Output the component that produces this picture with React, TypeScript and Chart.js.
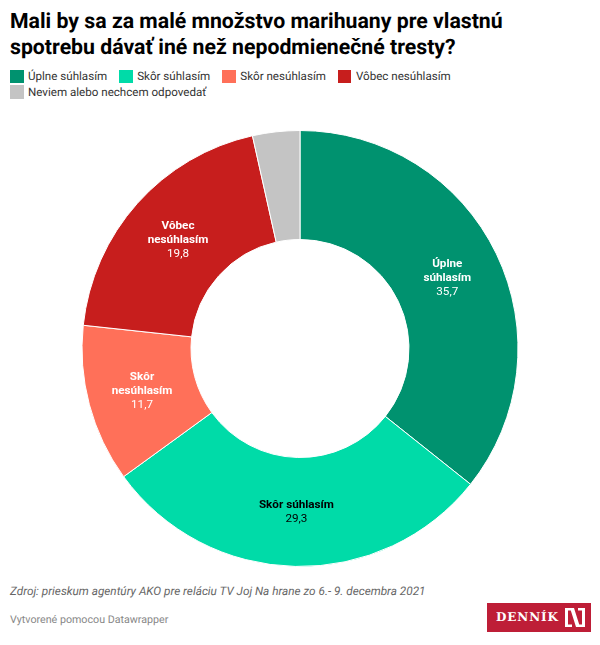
import { Chart, registerables } from "chart.js"
import { useEffect, useRef } from "react"

Chart.register(...registerables)

const categories = ["Úplne súhlasím", "Skôr súhlasím", "Skôr nesúhlasím", "Vôbec nesúhlasím", "Neviem alebo nechcem odpovedať"]
const values = [35.7, 29.3, 11.7, 19.8, 3.5]
const colors = ["#00926f", "#00dba8", "#ff7059", "#c71e1d", "#c4c4c4"]
const labelColors = ["#fff", "#000", "#fff", "#fff", ""]
const sliceLabels = [["Úplne", "súhlasím"], ["Skôr súhlasím"], ["Skôr", "nesúhlasím"], ["Vôbec", "nesúhlasím"], []]

const font = "Roboto, sans-serif"

const sliceLabelPlugin = {
  id: "sliceLabels",
  afterDatasetsDraw(chart: any) {
    const ctx = chart.ctx
    chart.getDatasetMeta(0).data.forEach((arc: any, i: number) => {
      const lines = sliceLabels[i]
      if (!lines.length) return
      const { x, y } = arc.tooltipPosition()
      const total = lines.length + 1
      const top = y - ((total - 1) * 14) / 2 + 0.5
      ctx.save()
      ctx.textAlign = "center"
      ctx.textBaseline = "middle"
      ctx.fillStyle = labelColors[i]
      ctx.font = `700 11.7px ${font}`
      lines.forEach((line, j) => ctx.fillText(line, x, top + j * 14))
      ctx.font = `400 11.7px ${font}`
      ctx.fillText(values[i].toFixed(1).replace(".", ","), x, top + lines.length * 14)
      ctx.restore()
    })
  },
}

const App = () => {
  const chartRef = useRef<HTMLCanvasElement>(null)

  useEffect(() => {
    if (chartRef.current) {
      const myChart = new Chart(chartRef.current, {
        type: "doughnut",
        data: {
          labels: categories,
          datasets: [{ data: values, backgroundColor: colors, borderColor: "#fff", borderWidth: 1 }],
        },
        options: {
          animation: false,
          responsive: false,
          cutout: "50%",
          layout: { padding: 0 },
          plugins: { legend: { display: false }, tooltip: { enabled: false } },
        },
        plugins: [sliceLabelPlugin],
      })

      return () => {
        myChart.destroy()
      }
    }
  }, [])

  return (
    <div style={{ position: "absolute", left: 0, top: 0, width: 600, height: 645, background: "#fff", fontFamily: font, overflow: "hidden", textRendering: "geometricPrecision" }}>
      <div style={{ position: "absolute", left: 10, top: 9, width: 570, fontSize: 21.25, lineHeight: "26px", fontWeight: 700, color: "#000" }}>
        Mali by sa za malé množstvo marihuany pre vlastnú
        <br />
        spotrebu dávať iné než nepodmienečné tresty?
      </div>
      <div style={{ position: "absolute", left: 10, top: 69.5, width: 480, display: "flex", flexWrap: "wrap", columnGap: 12, rowGap: 2 }}>
        {categories.map((c, i) => (
          <div key={c} style={{ display: "flex", alignItems: "center", height: 13.5, fontSize: 11.6, color: "#333" }}>
            <span style={{ width: 13.5, height: 13.5, background: colors[i], marginRight: 4.5 }} />
            {c}
          </div>
        ))}
      </div>
      <canvas ref={chartRef} width={600} height={437} style={{ position: "absolute", left: 0, top: 130 }} />
      <div style={{ position: "absolute", left: 10, top: 584, fontSize: 11.75, fontStyle: "italic", color: "#666" }}>
        Zdroj: prieskum agentúry AKO pre reláciu TV Joj Na hrane zo 6.- 9. decembra 2021
      </div>
      <div style={{ position: "absolute", left: 10, top: 613, fontSize: 10.7, color: "#888" }}>Vytvorené pomocou Datawrapper</div>
      <div style={{ position: "absolute", left: 487, top: 603, width: 104, height: 29, background: "#be1e37" }}>
        <div style={{ position: "absolute", left: 9, top: 7, color: "#fff", fontFamily: "'DejaVu Serif', serif", fontWeight: 700, fontSize: 12, lineHeight: "15px", letterSpacing: 0.9 }}>DENNÍK</div>
        <svg width={20} height={19} viewBox="0 0 20 19" style={{ position: "absolute", left: 78, top: 5 }}>
          <path fill="#fff" d="M0 0H7V2.5H3V16.5H7V19H0ZM20 19H13V16.5H17V2.5H13V0H20ZM5 0H9L15 19H11Z" />
        </svg>
      </div>
    </div>
  )
}

export default App
